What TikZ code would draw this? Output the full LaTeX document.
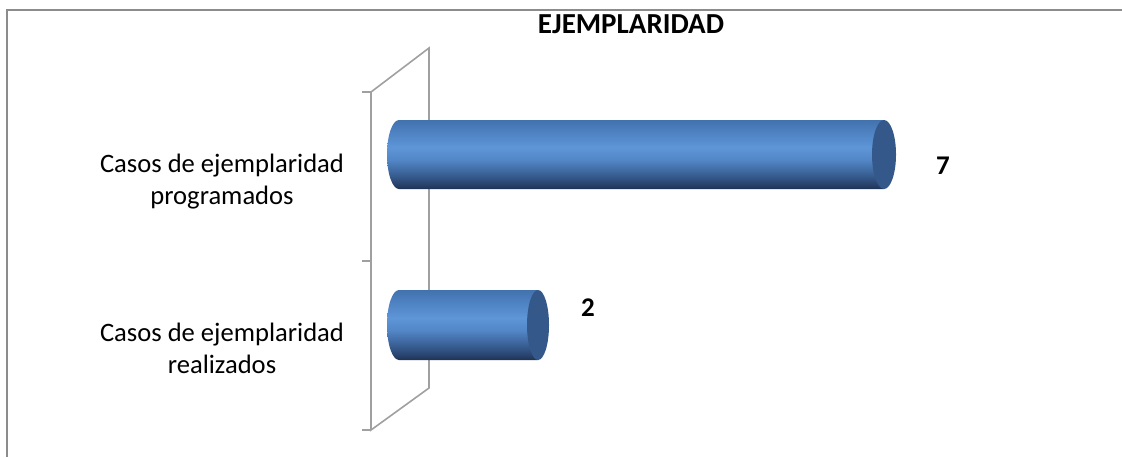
\documentclass[tikz,border=0pt]{standalone}
\usepackage{fontspec}
\setmainfont{Carlito}
\usepackage{tikz}
\usepackage{xcolor}
\usetikzlibrary{calc, positioning}
\definecolor{framegray}{HTML}{8C8C8C}
\definecolor{wallgray}{HTML}{A0A0A0}
\definecolor{capCol}{HTML}{34588A}
\pgfdeclareverticalshading{barshade}{100bp}{
    color(0bp)=(rgb,255:red,30;green,51;blue,82);
    color(25bp)=(rgb,255:red,30;green,51;blue,82);
    color(29bp)=(rgb,255:red,42;green,69;blue,112);
    color(36bp)=(rgb,255:red,58;green,97;blue,150);
    color(46bp)=(rgb,255:red,82;green,134;blue,198);
    color(55bp)=(rgb,255:red,94;green,150;blue,216);
    color(65bp)=(rgb,255:red,80;green,132;blue,196);
    color(75bp)=(rgb,255:red,66;green,114;blue,174);
    color(100bp)=(rgb,255:red,66;green,114;blue,174)}
\tikzset{
    catlabel/.style={align=center, font=\fontsize{13.3}{16}\selectfont},
    vallabel/.style={font=\fontsize{13.5}{16}\selectfont\bfseries},
    titlelabel/.style={font=\fontsize{14.5}{17}\selectfont\bfseries},
    wall/.style={draw=wallgray, line width=0.8pt},
    barbody/.style={shading=barshade},
    barcap/.style={fill=capCol}
}

\begin{document}
\begin{tikzpicture}[x=0.5pt, y=-0.5pt]
                        \useasboundingbox (0, 0) rectangle (1122, 457);
                        \draw[framegray, line width=1pt] (6.5, 457) -- (6.5, 10) -- (1122, 10);
                        \node[titlelabel] (title) at (631, 24) {EJEMPLARIDAD};
                        \draw[wall] (371, 92) -- (429, 48) -- (429, 388) -- (371, 430) -- cycle;
                        \draw[wall]
                        (362, 92) -- (371, 92)
                        (362, 261) -- (371, 261)
                        (362, 430) -- (371, 430);
                        \shade[barbody] (884, 120) -- (399, 120) arc[start angle=270, end angle=90, x radius=12, y radius=34.5] -- (884, 189) -- cycle;
                        \fill[barcap] (884, 154.5) ellipse [x radius=12, y radius=34.5];
                        \shade[barbody] (538, 290) -- (399, 290) arc[start angle=270, end angle=90, x radius=12, y radius=35] -- (538, 360) -- cycle;
                        \fill[barcap] (538, 325) ellipse [x radius=11, y radius=35];
                        \node[catlabel] (prog) at (222, 182) {Casos de ejemplaridad\\programados};
                        \node[catlabel] (real) at (222, 348) {Casos de ejemplaridad\\realizados};
                        \node[vallabel] (v7) at (943, 166) {7};
                        \node[vallabel] (v2) at (588, 308) {2};
                    \end{tikzpicture}
\end{document}
